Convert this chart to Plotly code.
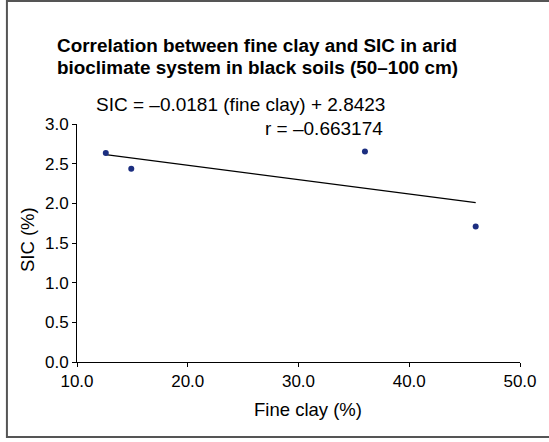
import plotly.graph_objects as go

# Data
fine_clay = [12.6, 14.9, 36.0, 46.0]
sic = [2.635, 2.435, 2.652, 1.708]
slope = -0.0181
intercept = 2.8423
x_ticks = [10, 20, 30, 40, 50]
x_tick_labels = ["10.0", "20.0", "30.0", "40.0", "50.0"]
y_ticks = [0, 0.5, 1.0, 1.5, 2.0, 2.5, 3.0]
y_tick_labels = ["0.0", "0.5", "1.0", "1.5", "2.0", "2.5", "3.0"]
title_lines = ["Correlation between fine clay and SIC in arid",
               "bioclimate system in black soils (50\u2013100 cm)"]
eq_text = "SIC = \u20130.0181 (fine clay) + 2.8423"
r_text = "r = \u20130.663174"
x_title = "Fine clay (%)"
y_title = "SIC (%)"

W, H = 549, 442
ml, mr, mt, mb = 77, 20, 124, 80
pw, ph = W - ml - mr, H - mt - mb

FONT = "Liberation Sans, Arial, sans-serif"

fig = go.Figure()
xl = [min(fine_clay), max(fine_clay)]
fig.add_trace(go.Scatter(x=xl, y=[slope * v + intercept for v in xl], mode="lines",
                         line=dict(color="black", width=1.3), hoverinfo="skip"))
fig.add_trace(go.Scatter(x=fine_clay, y=sic, mode="markers",
                         marker=dict(color="#1c2e80", size=6)))

def px(xp):
    return (xp - ml) / pw

def py(yp):
    return (H - mb - yp) / ph

annotations = [
    dict(text="<b>" + title_lines[0] + "</b>", x=px(55), y=py(45), xanchor="left", yanchor="middle",
         font=dict(size=18.9, family=FONT, color="black")),
    dict(text="<b>" + title_lines[1] + "</b>", x=px(55), y=py(67), xanchor="left", yanchor="middle",
         font=dict(size=18.9, family=FONT, color="black")),
    dict(text=eq_text, x=px(393), y=py(104), xanchor="right", yanchor="middle",
         font=dict(size=19, family=FONT, color="black")),
    dict(text=r_text, x=px(391), y=py(128), xanchor="right", yanchor="middle",
         font=dict(size=19, family=FONT, color="black")),
    dict(text=x_title, x=px(313), y=py(409), xanchor="center", yanchor="middle",
         font=dict(size=18.5, family=FONT, color="black")),
    dict(text=y_title, x=px(26), y=py(240), xanchor="center", yanchor="middle", textangle=-90,
         font=dict(size=18.5, family=FONT, color="black")),
]
for a in annotations:
    a.update(xref="paper", yref="paper", showarrow=False)

fig.update_layout(
    width=W, height=H,
    margin=dict(l=ml, r=mr, t=mt, b=mb),
    paper_bgcolor="white", plot_bgcolor="white",
    showlegend=False,
    font=dict(family=FONT, size=17, color="black"),
    annotations=annotations,
    shapes=[dict(type="rect", xref="paper", yref="paper",
                 x0=px(5.5), x1=px(600), y0=py(437), y1=py(1),
                 line=dict(color="#555555", width=2), fillcolor="rgba(0,0,0,0)", layer="below")],
    xaxis=dict(range=[10, 50], tickvals=x_ticks, ticktext=x_tick_labels,
               showgrid=False, zeroline=False, showline=True, linecolor="black", linewidth=1,
               ticks="outside", ticklen=4, tickcolor="black"),
    yaxis=dict(range=[0, 3], tickvals=y_ticks, ticktext=y_tick_labels,
               showgrid=False, zeroline=False, showline=True, linecolor="black", linewidth=1,
               ticks="outside", ticklen=4, tickcolor="black"),
)

fig.write_html("out.html")
